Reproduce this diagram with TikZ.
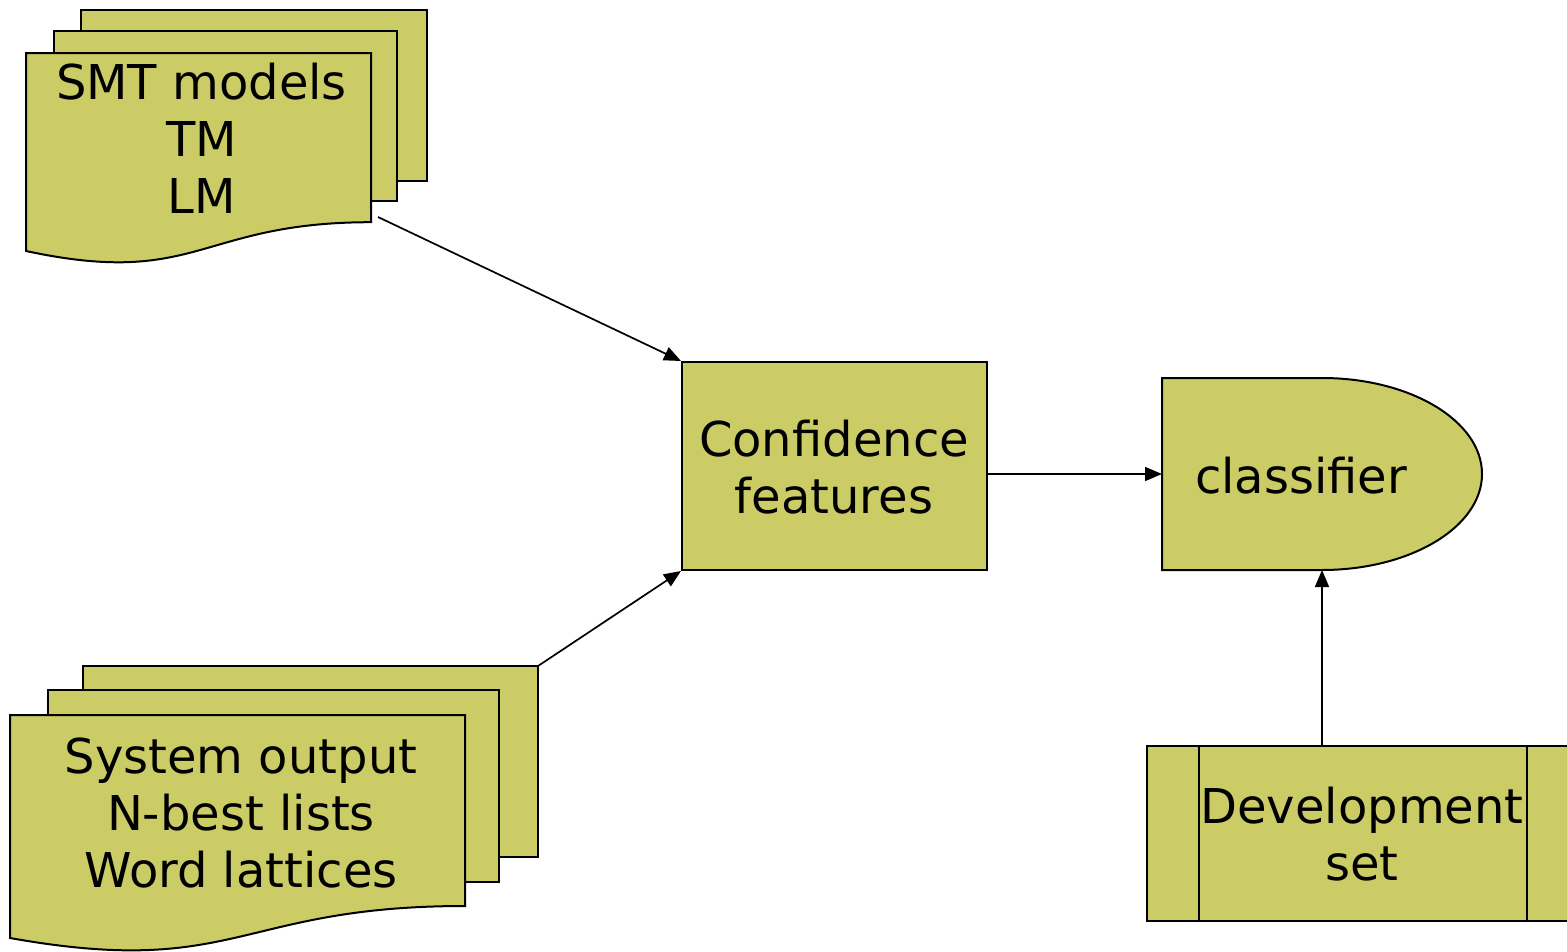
\documentclass[tikz,border=0pt]{standalone}
\usepackage{fontspec}
\setmainfont{DejaVu Sans}
\usetikzlibrary{arrows.meta}
\definecolor{olive}{RGB}{204,204,102}
\tikzset{
  sheet/.style={fill=olive, draw=black, line width=2pt, line join=miter},
  label/.style={font=\fontsize{48}{57}\selectfont, align=center, inner sep=0pt},
  link/.style={draw=black, line width=1.7pt, -{Triangle[length=17pt,width=14pt]}}
}
\begin{document}
\begin{tikzpicture}[x=1pt,y=-1pt]
\useasboundingbox (0,0) rectangle (1567,951);

% stacked documents: SMT models
\draw[sheet] (81,10) rectangle (427,181);
\draw[sheet] (54,31) rectangle (397,201);
\draw[sheet] (26,53) -- (371,53) -- (371,222.2)
  .. controls (198.5,222.2) and (198.5,288) .. (26,251) -- cycle;
\node[label] (smt) at (201.5,138.5) {SMT models\\TM\\LM};
\coordinate (smtOut) at (378,217);

% stacked documents: system output
\draw[sheet] (83,666) rectangle (538,857);
\coordinate (sysOut) at (538,666);
\draw[sheet] (48,690) rectangle (499,882);
\draw[sheet] (10,715) -- (465,715) -- (465,906)
  .. controls (237.5,906) and (237.5,978.6) .. (10,938) -- cycle;
\node[label] (sys) at (241,813) {System output\\N-best lists\\Word lattices};

% confidence features
\node[sheet, minimum width=305pt, minimum height=208pt, inner sep=0pt] (conf) at (834.5,466) {};
\node[label] at (834,467.5) {Confidence\\features};

% classifier
\draw[sheet] (1162,378) -- (1322,378) arc[start angle=-90, end angle=90, x radius=160, y radius=96]
  -- (1162,570) -- cycle;
\coordinate (clsW) at (1162,474);
\coordinate (clsS) at (1322,570);
\node[label] (cls) at (1301,475.5) {classifier};

% development set
\draw[sheet] (1147,746) rectangle (1579,921);
\draw[line width=2pt] (1199,746) -- (1199,921);
\draw[line width=2pt] (1527,746) -- (1527,921);
\coordinate (devN) at (1322,746);
\node[label] (dev) at (1362,834.5) {Development\\set};

% connectors
\draw[link] (smtOut) -- (conf.north west);
\draw[link] (sysOut) -- (conf.south west);
\draw[link] (conf.east |- clsW) -- (clsW);
\draw[link] (devN) -- (clsS);
\end{tikzpicture}
\end{document}
